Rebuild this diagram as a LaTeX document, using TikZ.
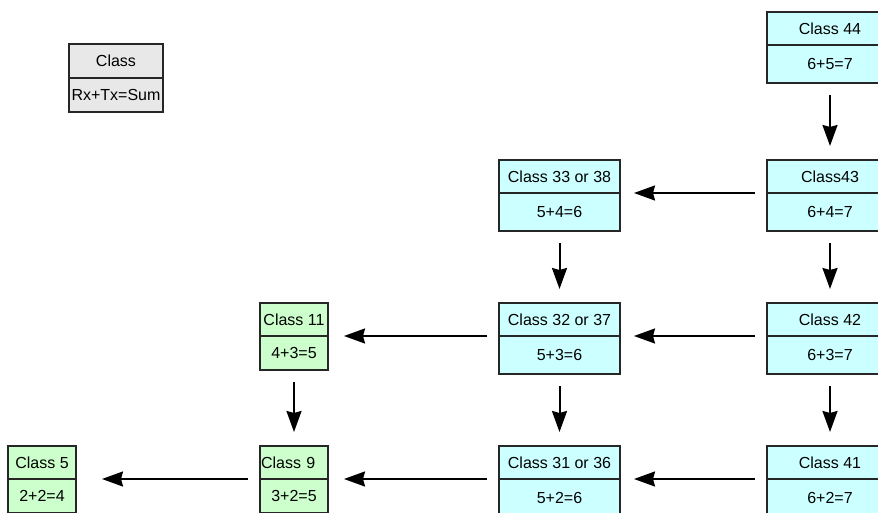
\documentclass[tikz,border=0pt]{standalone}
\usepackage{fontspec}
\setmainfont{Liberation Sans}
\usetikzlibrary{positioning}
\usetikzlibrary{arrows.meta}

\definecolor{boxcyan}{HTML}{CCFFFF}
\definecolor{boxgreen}{HTML}{CCFFCC}
\definecolor{boxgray}{HTML}{E8E8E8}

\tikzset{
  part/.style={draw=black!85, line width=1.3pt, inner sep=0pt, outer sep=0pt, anchor=north west,
    minimum height=33pt, font=\fontsize{16}{19}\selectfont},
  cyanpart/.style={part, fill=boxcyan, minimum width=#1},
  greenpart/.style={part, fill=boxgreen, minimum width=68pt},
  flow/.style={-{Stealth[length=21pt,width=15pt,inset=2pt]}, line width=2pt,
    shorten <=12pt, shorten >=14pt}
}

\begin{document}
\begin{tikzpicture}[x=1pt,y=-1pt]
\useasboundingbox (0,0) rectangle (878,513);
\clip (0,0) rectangle (878,513);

%legenda
\node[part, fill=boxgray, minimum width=94pt, minimum height=34pt] (leg) at (69,44) {Class};
\node[part, fill=boxgray, minimum width=94pt, minimum height=34pt, below=0pt of leg] (legs) {Rx+Tx=Sum};

%kolumna 4x
\node[cyanpart=126pt] (c44) at (767,12) {Class 44};
\node[cyanpart=126pt, minimum height=38pt, below=0pt of c44] (c44s) {6+5=7};
\node[cyanpart=126pt] (c43) at (767,160) {Class43};
\node[cyanpart=126pt, minimum height=38pt, below=0pt of c43] (c43s) {6+4=7};
\node[cyanpart=126pt] (c42) at (767,303) {Class 42};
\node[cyanpart=126pt, minimum height=38pt, below=0pt of c42] (c42s) {6+3=7};
\node[cyanpart=126pt] (c41) at (767,446) {Class 41};
\node[cyanpart=126pt, minimum height=38pt, below=0pt of c41] (c41s) {6+2=7};

%kolumna 3x
\node[cyanpart=121pt] (c33) at (499,160) {Class 33 or 38};
\node[cyanpart=121pt, minimum height=38pt, below=0pt of c33] (c33s) {5+4=6};
\node[cyanpart=121pt] (c32) at (499,303) {Class 32 or 37};
\node[cyanpart=121pt, minimum height=38pt, below=0pt of c32] (c32s) {5+3=6};
\node[cyanpart=121pt] (c31) at (499,446) {Class 31 or 36};
\node[cyanpart=121pt, minimum height=38pt, below=0pt of c31] (c31s) {5+2=6};

%kolumny 1x i nizej
\node[greenpart] (c11) at (260,303) {Class 11};
\node[greenpart, minimum height=34pt, below=0pt of c11] (c11s) {4+3=5};
\node[greenpart, text width=66pt, align=left] (c9) at (260,446) {Class 9};
\node[greenpart, minimum height=34pt, below=0pt of c9] (c9s) {3+2=5};
\node[greenpart] (c5) at (8,446) {Class 5};
\node[greenpart, minimum height=34pt, below=0pt of c5] (c5s) {2+2=4};

%strzalki w dol
\draw[flow] (c44s) -- (c43);
\draw[flow] (c43s) -- (c42);
\draw[flow] (c42s) -- (c41);
\draw[flow] (c33s) -- (c32);
\draw[flow] (c32s) -- (c31);
\draw[flow] (c11s) -- (c9);

%strzalki w lewo
\draw[flow] (c43.south west) -- (c33.south east);
\draw[flow] (c42.south west) -- (c32.south east);
\draw[flow] (c41.south west) -- (c31.south east);
\draw[flow, shorten >=16pt] (c32.south west) -- (c11.south east);
\draw[flow, shorten >=16pt] (c31.south west) -- (c9.south east);
\draw[flow, shorten >=26pt] (c9.south west) -- (c5.south east);
\end{tikzpicture}
\end{document}
